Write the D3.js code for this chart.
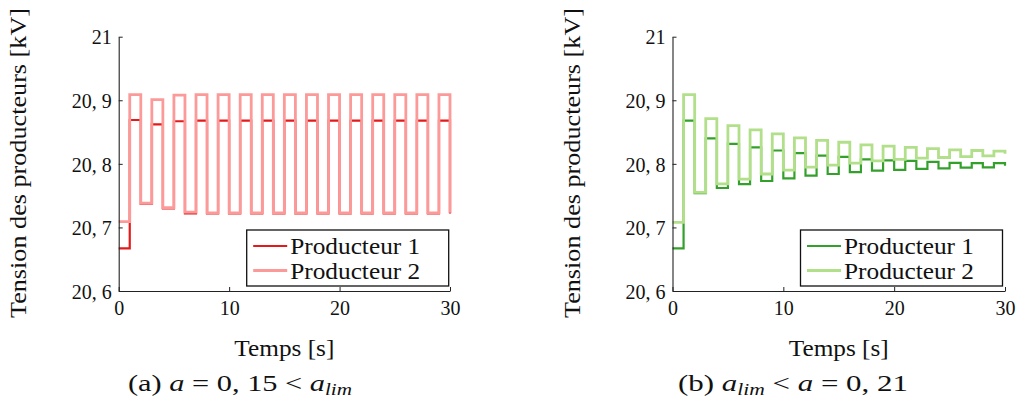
<!DOCTYPE html>
<html>
<head>
<meta charset="utf-8">
<script src="https://cdn.jsdelivr.net/npm/d3@7"></script>
<style>
  html, body { margin: 0; padding: 0; background: #fff; }
  svg { display: block; }
  text { font-family: "Liberation Serif", "Times New Roman", serif; fill: #111; }
</style>
</head>
<body>
<svg id="chart" width="1018" height="402"></svg>
<script>
// ---- Data ----
const times = [0,1,2,3,4,5,6,7,8,9,10,11,12,13,14,15,16,17,18,19,20,21,22,23,24,25,26,27,28,29,30];

// (a) a = 0,15 < a_lim
const aProd1 = [20.667,20.869,20.737,20.862,20.730,20.867,20.722,20.868,20.722,20.868,20.722,20.868,20.722,20.868,20.722,20.868,
                20.722,20.868,20.722,20.868,20.722,20.868,20.722,20.868,20.722,20.868,20.722,20.868,20.722,20.868,20.722];
const aProd2 = [20.709,20.909,20.738,20.901,20.731,20.908,20.724,20.909,20.723,20.909,20.723,20.909,20.723,20.909,20.723,20.909,
                20.723,20.909,20.723,20.909,20.723,20.909,20.723,20.909,20.723,20.909,20.723,20.909,20.723,20.909,20.723];

// (b) a_lim < a = 0,21
const bProd1 = [20.667,20.868,20.754,20.840,20.762,20.8315,20.768,20.826,20.773,20.821,20.777,20.817,20.7815,20.813,20.784,20.811,
                20.787,20.807,20.7895,20.8055,20.7906,20.8047,20.792,20.803,20.793,20.8016,20.794,20.801,20.7945,20.801,20.797];
const bProd2 = [20.708,20.909,20.755,20.871,20.7685,20.860,20.776,20.8535,20.784,20.847,20.790,20.841,20.795,20.837,20.798,20.834,
                20.801,20.830,20.8047,20.828,20.807,20.826,20.809,20.824,20.810,20.822,20.8115,20.821,20.8126,20.820,20.8157];

const xTicks = [0, 10, 20, 30];
const yTicks = [20.6, 20.7, 20.8, 20.9, 21];
const yTickLabels = ["20, 6", "20, 7", "20, 8", "20, 9", "21"];
const seriesNames = ["Producteur 1", "Producteur 2"];
const yAxisLabel = "Tension des producteurs [kV]";
const xAxisLabel = "Temps [s]";

// ---- Drawing ----
const svg = d3.select("#chart");

const panels = [
  { x0: 118.7, x1: 450, p1: aProd1, p2: aProd2, c1: "#e31a1c", c2: "#fb9a99",
    caption: "a", capX: 240, capLen: 224 },
  { x0: 672.5, x1: 1005, p1: bProd1, p2: bProd2, c1: "#33a02c", c2: "#b2df8a",
    caption: "b", capX: 793, capLen: 230 }
];

const yTop = 36.7, yBot = 291;

panels.forEach(p => {
  const g = svg.append("g");
  const x = d3.scaleLinear().domain([0, 30]).range([p.x0, p.x1]);
  const y = d3.scaleLinear().domain([20.6, 21]).range([yBot, yTop]);

  const line = d3.line()
    .x((d, i) => x(times[i]))
    .y(d => y(d))
    .curve(d3.curveStepAfter);

  // series: Producteur 1 below, Producteur 2 on top
  g.append("path").datum(p.p1)
    .attr("d", line).attr("fill", "none")
    .attr("stroke", p.c1).attr("stroke-width", 2.2);
  g.append("path").datum(p.p2)
    .attr("d", line).attr("fill", "none")
    .attr("stroke", p.c2).attr("stroke-width", 2.8)
    .attr("stroke-linejoin", "miter");

  // axes
  const xAxis = d3.axisBottom(x).tickValues(xTicks).tickSizeInner(-4).tickSizeOuter(0).tickPadding(10);
  const gx = g.append("g").attr("transform", `translate(0,${yBot})`).call(xAxis);
  const yAxis = d3.axisLeft(y).tickValues(yTicks)
    .tickFormat((d, i) => yTickLabels[i]).tickSizeInner(-4).tickSizeOuter(0).tickPadding(7);
  const gy = g.append("g").attr("transform", `translate(${p.x0},0)`).call(yAxis);
  [gx, gy].forEach(a => {
    a.select(".domain").attr("stroke", "#222").attr("stroke-width", 1.1);
    a.selectAll(".tick line").attr("stroke", "#222").attr("stroke-width", 1);
    a.selectAll(".tick text").style("font-family", "'Liberation Serif', serif")
      .style("font-size", "20px").attr("fill", "#111");
  });
  gy.selectAll(".tick text").attr("dy", "0.36em");

  // legend
  const lg = g.append("g");
  lg.append("rect")
    .attr("x", p.x0 + 128).attr("y", 230)
    .attr("width", 202).attr("height", 56)
    .attr("fill", "#fff").attr("stroke", "#111").attr("stroke-width", 1.3);
  [[p.c1, 2.2], [p.c2, 2.8]].forEach((c, i) => {
    const ly = 246 + i * 24.5;
    lg.append("line")
      .attr("x1", p.x0 + 134.5).attr("x2", p.x0 + 168.5)
      .attr("y1", ly).attr("y2", ly)
      .attr("stroke", c[0]).attr("stroke-width", c[1]);
    lg.append("text")
      .attr("x", p.x0 + 171.5).attr("y", ly + 8)
      .attr("textLength", 130).attr("lengthAdjust", "spacingAndGlyphs")
      .style("font-size", "23px")
      .text(seriesNames[i]);
  });

  // axis labels
  g.append("text")
    .attr("transform", `translate(${p.x0 - 92.5},163) rotate(-90)`)
    .attr("text-anchor", "middle")
    .attr("textLength", 310).attr("lengthAdjust", "spacingAndGlyphs")
    .style("font-size", "23px")
    .text(yAxisLabel);
  g.append("text")
    .attr("x", (p.x0 + p.x1) / 2).attr("y", 356)
    .attr("text-anchor", "middle")
    .attr("textLength", 100).attr("lengthAdjust", "spacingAndGlyphs")
    .style("font-size", "23px")
    .text(xAxisLabel);

  // caption
  const cap = g.append("text")
    .attr("x", p.capX).attr("y", 391)
    .attr("text-anchor", "middle")
    .attr("textLength", p.capLen).attr("lengthAdjust", "spacingAndGlyphs")
    .style("font-size", "23px");
  if (p.caption === "a") {
    cap.append("tspan").text("(a) ");
    cap.append("tspan").style("font-style", "italic").text("a");
    cap.append("tspan").text(" = 0, 15 < ");
    cap.append("tspan").style("font-style", "italic").text("a");
    cap.append("tspan").style("font-style", "italic").style("font-size", "16px").attr("dy", 4).text("lim");
  } else {
    cap.append("tspan").text("(b) ");
    cap.append("tspan").style("font-style", "italic").text("a");
    cap.append("tspan").style("font-style", "italic").style("font-size", "16px").attr("dy", 4).text("lim");
    cap.append("tspan").attr("dy", -4).text(" < ");
    cap.append("tspan").style("font-style", "italic").text("a");
    cap.append("tspan").text(" = 0, 21");
  }
});
</script>
</body>
</html>
